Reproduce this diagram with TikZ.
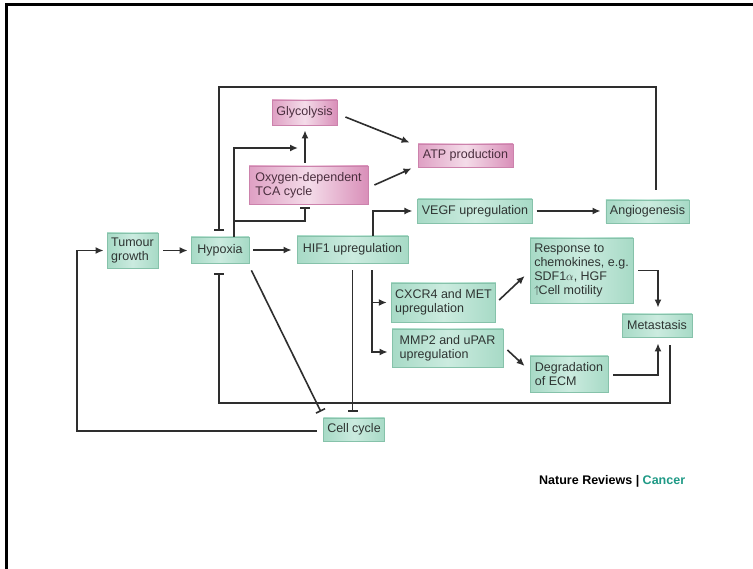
\documentclass[tikz,border=0pt]{standalone}
\usepackage{fontspec}
\setmainfont{Liberation Sans}
\usetikzlibrary{arrows.meta}
\definecolor{gfill}{HTML}{A7DAC6}
\definecolor{glight}{HTML}{CBEBDF}
\definecolor{gline}{HTML}{86C2AA}
\definecolor{pfill}{HTML}{D98FB9}
\definecolor{plight}{HTML}{F4DCE9}
\definecolor{pline}{HTML}{CC82AC}
\definecolor{gtext}{HTML}{2E3432}
\definecolor{ptext}{HTML}{4A2E3E}
\definecolor{wire}{HTML}{2E2E2E}
\definecolor{cancer}{HTML}{1F9A86}
\tikzset{
  box/.style={inner xsep=4pt, inner ysep=2pt, align=left, line width=0.8pt,
    font=\fontsize{12.5}{13.8}\selectfont},
  gbox/.style={box, draw=gline, left color=gfill, right color=gfill,
    middle color=glight, text=gtext},
  pbox/.style={box, draw=pline, left color=pfill!85, right color=pfill,
    middle color=plight, text=ptext},
  act/.style={draw=wire, line width=1.6pt, -{Latex[length=8pt,width=7pt]}},
  inh/.style={draw=wire, line width=1.6pt, -{Bar[width=10pt,line width=1.6pt]}},
}
\begin{document}
\begin{tikzpicture}[x=1pt,y=-1pt]
\useasboundingbox (0,0) rectangle (753,569);
\fill[white] (0,0) rectangle (753,569);
% frame edges
\draw[line width=3pt] (6.5,569) -- (6.5,5) -- (753,5);

% nodes
\node[gbox, minimum width=51pt, minimum height=35pt] (tumour) at (132.5,250.5) {Tumour\\growth};
\node[gbox, minimum width=58pt, minimum height=26pt] (hypox) at (220,250) {Hypoxia};
\node[gbox, minimum width=111pt, minimum height=27pt] (hif) at (352.5,249.5) {HIF1 upregulation};
\node[pbox, minimum width=65pt, minimum height=25pt] (glyc) at (304.5,112.5) {Glycolysis};
\node[pbox, minimum width=119pt, minimum height=38pt] (tca) at (308.5,185) {Oxygen-dependent\\TCA cycle};
\node[pbox, minimum width=95pt, minimum height=23pt] (atp) at (465.5,155.5) {ATP production};
\node[gbox, minimum width=112pt, minimum height=24pt] (vegf) at (475,211) {VEGF upregulation};
\node[gbox, minimum width=83pt, minimum height=23pt] (angio) at (647.5,211.5) {Angiogenesis};
\node[gbox, minimum width=103pt, minimum height=65pt] (resp) at (581.5,270.5)
  {Response to\\chemokines, e.g.\\SDF1$\alpha$, HGF\\\raisebox{0.5pt}{\fontsize{11}{11}\selectfont$\uparrow$}\kern-1pt Cell motility};
\node[gbox, minimum width=103pt, minimum height=39pt] (cxcr) at (443.5,302.5) {CXCR4 and MET\\upregulation};
\node[gbox, minimum width=111pt, minimum height=38pt] (mmp) at (447.5,348) {MMP2 and uPAR\\upregulation};
\node[gbox, minimum width=78pt, minimum height=36pt] (ecm) at (569,374) {Degradation\\of ECM};
\node[gbox, minimum width=70pt, minimum height=23pt] (meta) at (657,325.5) {Metastasis};
\node[gbox, minimum width=60pt, minimum height=23pt] (cell) at (354,429.5) {Cell cycle};

% free ends and bends
\coordinate (gly-in) at (298,148);
\coordinate (tca-branch) at (234,221);
\coordinate (top-bend) at (219,87);
\coordinate (low-bend) at (219,403);
\coordinate (left-bend) at (77,431);

% connectors
\draw[inh] ([xshift=8.5pt,yshift=10pt]angio.north) |- (top-bend) -- ([xshift=-1pt,yshift=6pt]hypox.north);
\draw[act] ([xshift=14pt]hypox.north) |- (gly-in);
\draw[inh] (tca-branch) -| ([xshift=-3.5pt,yshift=-3pt]tca.south);
\draw[act] ([xshift=-3.5pt,yshift=3pt]tca.north) -- ([xshift=-3.5pt,yshift=-5pt]tca.north |- glyc.south);
\draw[act] ([xshift=8pt,yshift=-4.5pt]glyc.east) -- ([xshift=-8pt,yshift=1pt]atp.north west);
\draw[act] ([xshift=6pt]tca.east) -- ([xshift=-6pt,yshift=-1pt]atp.south west);
\draw[act] ([xshift=20.5pt]hif.north) |- ([xshift=-5pt]vegf.west);
\draw[act] ([xshift=4pt]vegf.east) -- ([xshift=-5pt]vegf.east -| angio.west);
\draw[act] ([xshift=5pt]tumour.east) -- ([xshift=-3pt]tumour.east -| hypox.west);
\draw[act] ([xshift=4pt]hypox.east) -- ([xshift=-5pt]hypox.east -| hif.west);
\draw[inh] ([xshift=2pt,yshift=-7pt]hypox.south east) -- ([xshift=-2pt,yshift=6pt]cell.north west);
\draw[inh] ([xshift=13pt,yshift=-8pt]meta.south) |- (low-bend) -- ([xshift=-1pt,yshift=-10pt]hypox.south);
\draw[inh] ([yshift=-7pt]hif.south) -- ([yshift=6pt]hif.south |- cell.north);
\draw[act] ([xshift=19.5pt,yshift=-7pt]hif.south) |- ([xshift=-4pt,yshift=-4pt]mmp.west);
\draw[act] ([xshift=19.5pt]hif.south |- cxcr.west) -- ([xshift=-4pt]cxcr.west);
\draw[act] ([xshift=3pt,yshift=2.5pt]cxcr.east) -- ([xshift=-5pt,yshift=-5.5pt]resp.west);
\draw[act] ([xshift=4pt,yshift=-2pt]mmp.east) -- ([xshift=-5pt,yshift=8pt]ecm.west);
\draw[act] ([xshift=5pt]resp.east) -| ([xshift=1pt,yshift=6pt]meta.north);
\draw[act] ([xshift=5pt,yshift=-1pt]ecm.east) -| ([xshift=1pt,yshift=-6pt]meta.south);
\draw[act] ([xshift=-6pt,yshift=-1.5pt]cell.west) -- (left-bend) |- ([xshift=-3pt]tumour.west);

% journal label
\node[anchor=west, font=\fontsize{12.5}{14}\selectfont\bfseries, text=black, inner sep=0pt]
  (journal) at (539,481) {Nature Reviews | \textcolor{cancer}{Cancer}};
\end{tikzpicture}
\end{document}
